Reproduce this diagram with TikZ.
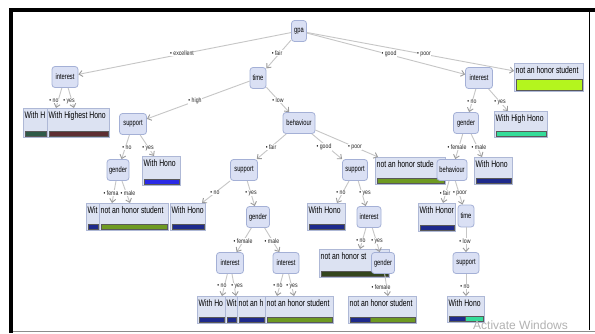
\documentclass[tikz,border=0pt]{standalone}
\usepackage{fontspec}
\setmainfont{Liberation Sans}
\newfontfamily\leaffont{Liberation Sans}[FakeStretch=0.72]
\newfontfamily\lblfont{Liberation Sans}[FakeStretch=0.8]
\usetikzlibrary{arrows.meta,calc}
\definecolor{nodefill}{HTML}{DAE0F4}
\definecolor{nodeborder}{HTML}{A4B0D6}
\definecolor{leaffill}{HTML}{DCE2F2}
\definecolor{leafborder}{HTML}{AEB8D6}
\definecolor{edgegray}{HTML}{C6C6C6}
\definecolor{tipgray}{HTML}{9A9A9A}
\definecolor{barnavy}{HTML}{1E2A8C}
\definecolor{barblue}{HTML}{2A2AE6}
\definecolor{baryellowgreen}{HTML}{B4F51E}
\definecolor{barteal}{HTML}{34DC9A}
\definecolor{barolive}{HTML}{6E9A22}
\definecolor{bardarkgreen}{HTML}{2E5A48}
\definecolor{barmaroon}{HTML}{5E2E32}
\definecolor{bardarkolive}{HTML}{34461E}
\tikzset{
  inner/.style={rounded corners=3pt, fill=nodefill, draw=nodeborder, line width=0.8pt,
    minimum height=21pt, inner sep=1pt, font=\leaffont\fontsize{8}{9}\selectfont},
  leafst/.style={rectangle, fill=leaffill, draw=leafborder, line width=0.8pt, inner sep=0pt},
  leaftxt/.style={inner sep=0pt, font=\leaffont\fontsize{9.5}{10}\selectfont},
  barst/.style={draw=black!65, line width=0.4pt},
  conn/.style={draw=edgegray, line width=0.9pt, -{Straight Barb[length=3.5pt,width=6pt,color=tipgray]}},
  lbl/.style={font=\lblfont\fontsize{6.5}{7}\selectfont, inner sep=0.6pt, fill=white, text=black!85}
}
\newcommand\leafnode[6]{%
  \node[leafst, anchor=north west, minimum width={#4pt-#2pt}, minimum height={#5pt-#3pt}] (#1) at (#2,#3) {};
  \begin{scope}
    \clip (#1.south west) rectangle (#1.north east);
    \node[leaftxt, anchor=north west] (#1t) at ([shift={(1.5,3)}]#1.north west) {#6};
  \end{scope}}
\newcommand\leafbar[2]{%
  \draw[barst, fill=#2] ([shift={(2,-7)}]#1.south west) rectangle ([shift={(-2,-2)}]#1.south east);}
\begin{document}
\begin{tikzpicture}[x=1pt,y=-1pt]
\path[use as bounding box, fill=white] (0,0) rectangle (595,333);
% frame
\fill[black] (9,8) rectangle (595,12);
\fill[black] (9,8) rectangle (13,333);
\draw[black, line width=1pt] (589.5,12) -- (589.5,330);
\draw[black!45, line width=1.5pt] (13,331.5) -- (595,331.5);

% leaves
\leafnode{L1}{23}{108}{47}{137}{With H}\leafbar{L1}{bardarkgreen}
\leafnode{L2}{47}{108}{109}{137}{With Highest Hono}\leafbar{L2}{barmaroon}
\leafnode{L3}{514}{63}{583}{91}{not an honor student}
\draw[barst, fill=baryellowgreen] ([shift={(2,-13)}]L3.south west) rectangle ([shift={(-2,-2)}]L3.south east);
\leafnode{L4}{494}{111}{547}{137}{With High Hono}\leafbar{L4}{barteal}
\leafnode{L5}{142}{156}{180}{185}{With Hono}\leafbar{L5}{barblue}
\leafnode{L9}{375}{157}{445}{184}{not an honor stude}\leafbar{L9}{barolive}
\leafnode{L10}{474}{157}{512}{184}{With Hono}\leafbar{L10}{barnavy}
\leafnode{L6}{86}{203}{99}{230}{Wit}\leafbar{L6}{barnavy}
\leafnode{L7}{99}{203}{168}{230}{not an honor student}\leafbar{L7}{barolive}
\leafnode{L8}{170}{203}{205}{230}{With Hono}\leafbar{L8}{barnavy}
\leafnode{L11}{307}{203}{345}{230}{With Hono}\leafbar{L11}{barnavy}
\leafnode{L12}{418}{203}{455}{231}{With Honor}\leafbar{L12}{barnavy}
\leafnode{L17}{319}{249}{389}{277}{not an honor st}\leafbar{L17}{bardarkolive}
\leafnode{L13}{197}{296}{225}{323}{With Ho}\leafbar{L13}{barnavy}
\leafnode{L14}{225}{296}{237}{323}{Wit}\leafbar{L14}{barnavy}
\leafnode{L15}{237}{296}{265}{323}{not an h}\leafbar{L15}{barnavy}
\leafnode{L16}{265}{296}{333}{323}{not an honor student}\leafbar{L16}{barolive}
\leafnode{L18}{348}{296}{416}{323}{not an honor student}
\draw[barst, fill=barnavy] ([shift={(2,-7)}]L18.south west) rectangle ([shift={(22,-2)}]L18.south west);
\draw[barst, fill=barolive] ([shift={(22,-7)}]L18.south west) rectangle ([shift={(-2,-2)}]L18.south east);
\leafnode{L19}{447}{296}{484}{322}{With Hono}
\draw[barst, fill=barnavy] ([shift={(2,-7)}]L19.south west) rectangle ([shift={(18,-2)}]L19.south west);
\draw[barst, fill=barteal] ([shift={(18,-7)}]L19.south west) rectangle ([shift={(-2,-2)}]L19.south east);

% inner nodes
\node[inner, minimum width=15pt] (gpa) at (299,31) {gpa};
\node[inner, minimum width=26pt] (interestL) at (65,77) {interest};
\node[inner, minimum width=16pt] (time) at (258,78) {time};
\node[inner, minimum width=27pt] (interestR) at (479,78) {interest};
\node[inner, minimum width=27pt] (supportA) at (133,124) {support};
\node[inner, minimum width=32pt] (behaviourA) at (299,123) {behaviour};
\node[inner, minimum width=25pt] (genderR) at (466,123) {gender};
\node[inner, minimum width=22pt] (genderA) at (118,170) {gender};
\node[inner, minimum width=27pt] (supportB) at (244,170) {support};
\node[inner, minimum width=25pt] (supportC) at (355,170) {support};
\node[inner, minimum width=30pt] (behaviourR) at (452,170) {behaviour};
\node[inner, minimum width=23pt] (genderB) at (258,217) {gender};
\node[inner, minimum width=24pt] (interestC) at (369,217) {interest};
\node[inner, minimum width=16pt, minimum height=22pt] (timeR) at (466,216) {time};
\node[inner, minimum width=27pt] (interestD) at (230,263) {interest};
\node[inner, minimum width=26pt] (interestE) at (286,263) {interest};
\node[inner, minimum width=23pt] (genderC) at (383,263) {gender};
\node[inner, minimum width=26pt] (supportR) at (466,263) {support};

% connectors
\draw[conn] (gpa) -- (interestL);
\draw[conn] (gpa) -- (time);
\draw[conn] (gpa) -- (interestR);
\draw[conn] (gpa) -- (L3);
\draw[conn] (interestL) -- ($(L1.north west)+(33,0)$);
\draw[conn] (interestL) -- ($(L2.north west)+(27,0)$);
\draw[conn] (time) -- (supportA);
\draw[conn] (time) -- (behaviourA);
\draw[conn] (interestR) -- (genderR);
\draw[conn] (interestR) -- ($(L4.north west)+(14,0)$);
\draw[conn] (supportA) -- (genderA);
\draw[conn] (supportA) -- ($(L5.north west)+(12,0)$);
\draw[conn] (genderA) -- ($(L6.north west)+(26,0)$);
\draw[conn] (genderA) -- ($(L7.north west)+(31,0)$);
\draw[conn] (behaviourA) -- (supportB);
\draw[conn] (behaviourA) -- (supportC);
\draw[conn] (behaviourA) -- (L9);
\draw[conn] (genderR) -- (behaviourR);
\draw[conn] (genderR) -- ($(L10.north west)+(8,0)$);
\draw[conn] (supportB) -- ($(L8.north west)+(32,0)$);
\draw[conn] (supportB) -- (genderB);
\draw[conn] (supportC) -- ($(L11.north west)+(30,0)$);
\draw[conn] (supportC) -- (interestC);
\draw[conn] (behaviourR) -- ($(L12.north west)+(25,0)$);
\draw[conn] (behaviourR) -- (timeR);
\draw[conn] (genderB) -- (interestD);
\draw[conn] (genderB) -- (interestE);
\draw[conn] (interestC) -- ($(L17.north west)+(41,0)$);
\draw[conn] (interestC) -- (genderC);
\draw[conn] (timeR) -- (supportR);
\draw[conn] (interestD) -- ($(L13.north west)+(25,0)$);
\draw[conn] (interestD) -- ($(L14.north west)+(11,0)$);
\draw[conn] (interestE) -- ($(L15.north west)+(40,0)$);
\draw[conn] (interestE) -- ($(L16.north west)+(29,0)$);
\draw[conn] (genderC) -- ($(L18.north west)+(40,0)$);
\draw[conn] (supportR) -- ($(L19.north west)+(19,0)$);

% connector labels
\node[lbl] (t1) at (182,53) {• excellent};
\node[lbl] (t2) at (277,53) {• fair};
\node[lbl] (t3) at (389,54) {• good};
\node[lbl] (t4) at (424,54) {• poor};
\node[lbl] (t5) at (54,101) {• no};
\node[lbl] (t6) at (69,101) {• yes};
\node[lbl] (t7) at (195,101) {• high};
\node[lbl] (t8) at (278,100) {• low};
\node[lbl] (t9) at (472,102) {• no};
\node[lbl] (t10) at (500,102) {• yes};
\node[lbl] (t11) at (127,148) {• no};
\node[lbl] (t12) at (148,148) {• yes};
\node[lbl] (t13) at (271,147) {• fair};
\node[lbl] (t14) at (324,147) {• good};
\node[lbl] (t15) at (355,147) {• poor};
\node[lbl] (t16) at (457,147) {• female};
\node[lbl] (t17) at (479,147) {• male};
\node[lbl] (t18) at (111,193) {• fema};
\node[lbl] (t19) at (128,193) {• male};
\node[lbl] (t20) at (215,193) {• no};
\node[lbl] (t21) at (251,193) {• yes};
\node[lbl] (t22) at (341,193) {• no};
\node[lbl] (t23) at (365,193) {• yes};
\node[lbl] (t24) at (445,193) {• fair};
\node[lbl] (t25) at (460,193) {• poor};
\node[lbl] (t26) at (243,241) {• female};
\node[lbl] (t27) at (272,241) {• male};
\node[lbl] (t28) at (361,241) {• no};
\node[lbl] (t29) at (377,241) {• yes};
\node[lbl] (t30) at (465,241) {• low};
\node[lbl] (t31) at (222,286) {• no};
\node[lbl] (t32) at (237,286) {• yes};
\node[lbl] (t33) at (278,286) {• no};
\node[lbl] (t34) at (292,286) {• yes};
\node[lbl] (t35) at (381,287) {• female};
\node[lbl] (t36) at (465,287) {• no};

% watermark
\node[anchor=base west, inner sep=0pt, text=black!30, font=\fontsize{12}{12}\selectfont] (wm) at (473,329.5) {Activate Windows};
\end{tikzpicture}
\end{document}
